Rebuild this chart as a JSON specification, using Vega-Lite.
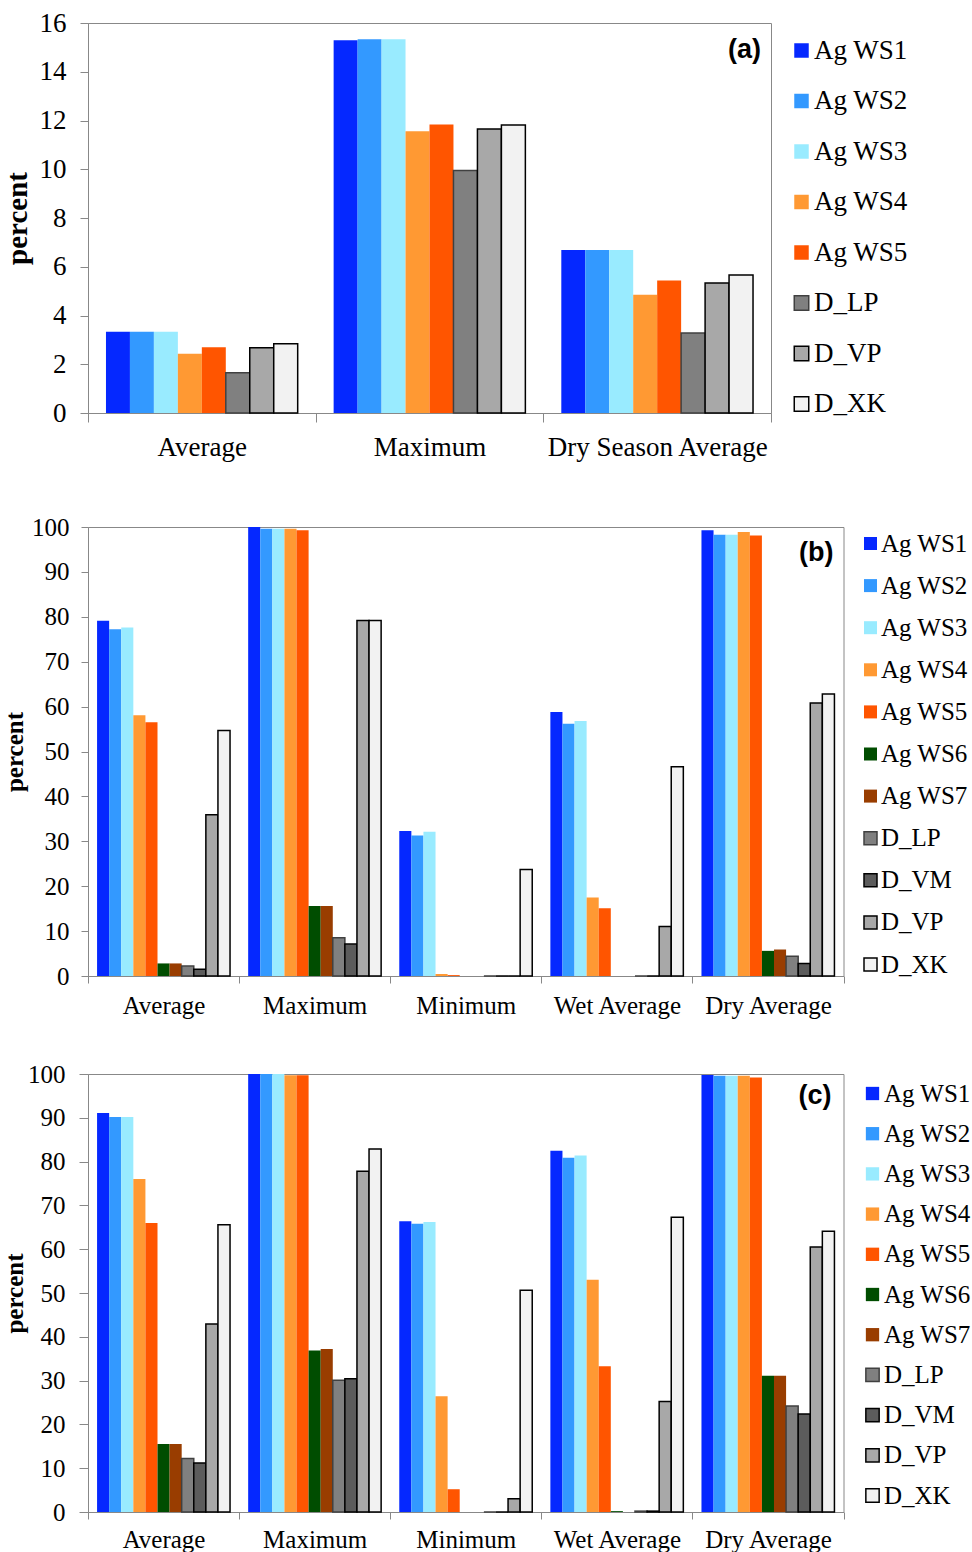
{
  "$schema": "https://vega.github.io/schema/vega-lite/v6.json",
  "padding": {"left": 2, "top": 8, "right": 0, "bottom": 0},
  "spacing": 42,
  "config": {
    "view": {"stroke": "#888888", "strokeWidth": 1},
    "axis": {"grid": false, "domainColor": "#888888", "tickColor": "#888888", "labelColor": "#000000", "titleColor": "#000000", "labelFont": "Liberation Serif", "titleFont": "Liberation Serif", "labelLimit": 0},
    "legend": {"labelFont": "Liberation Serif", "labelColor": "#000000", "symbolType": "square", "symbolStrokeWidth": 1.5, "labelLimit": 0}
  },
  "resolve": {
    "scale": {"x": "independent", "y": "independent", "xOffset": "independent", "fill": "independent", "stroke": "independent"},
    "legend": {"fill": "independent", "stroke": "independent"}
  },
  "vconcat": [
    {
      "width": 683,
      "height": 390,
      "data": {"values": [
        {"stat": "Average", "series": "Ag WS1", "value": 3.33},
        {"stat": "Average", "series": "Ag WS2", "value": 3.33},
        {"stat": "Average", "series": "Ag WS3", "value": 3.33},
        {"stat": "Average", "series": "Ag WS4", "value": 2.43},
        {"stat": "Average", "series": "Ag WS5", "value": 2.70},
        {"stat": "Average", "series": "D_LP", "value": 1.65},
        {"stat": "Average", "series": "D_VP", "value": 2.68},
        {"stat": "Average", "series": "D_XK", "value": 2.84},
        {"stat": "Maximum", "series": "Ag WS1", "value": 15.29},
        {"stat": "Maximum", "series": "Ag WS2", "value": 15.33},
        {"stat": "Maximum", "series": "Ag WS3", "value": 15.33},
        {"stat": "Maximum", "series": "Ag WS4", "value": 11.56},
        {"stat": "Maximum", "series": "Ag WS5", "value": 11.84},
        {"stat": "Maximum", "series": "D_LP", "value": 9.95},
        {"stat": "Maximum", "series": "D_VP", "value": 11.65},
        {"stat": "Maximum", "series": "D_XK", "value": 11.82},
        {"stat": "Dry Season Average", "series": "Ag WS1", "value": 6.69},
        {"stat": "Dry Season Average", "series": "Ag WS2", "value": 6.69},
        {"stat": "Dry Season Average", "series": "Ag WS3", "value": 6.69},
        {"stat": "Dry Season Average", "series": "Ag WS4", "value": 4.85},
        {"stat": "Dry Season Average", "series": "Ag WS5", "value": 5.44},
        {"stat": "Dry Season Average", "series": "D_LP", "value": 3.28},
        {"stat": "Dry Season Average", "series": "D_VP", "value": 5.33},
        {"stat": "Dry Season Average", "series": "D_XK", "value": 5.66}
      ]},
      "layer": [
        {
          "mark": {"type": "bar", "strokeWidth": 1.5},
          "encoding": {
            "x": {"field": "stat", "type": "nominal", "sort": ["Average", "Maximum", "Dry Season Average"],
              "scale": {"paddingInner": 0, "paddingOuter": 0},
              "axis": {"title": " ", "titleFontSize": 6, "titlePadding": 4.7, "labelFontSize": 27, "labelAngle": 0, "labelPadding": 12.5, "tickSize": 9, "tickBand": "extent"}},
            "xOffset": {"field": "series", "type": "nominal", "sort": ["Ag WS1", "Ag WS2", "Ag WS3", "Ag WS4", "Ag WS5", "D_LP", "D_VP", "D_XK"],
              "scale": {"paddingInner": 0, "paddingOuter": 0.75}},
            "y": {"field": "value", "type": "quantitative", "scale": {"domain": [0, 16], "nice": false},
              "axis": {"title": "percent", "titleFontWeight": "bold", "titleFontSize": 29, "titlePadding": 6.8, "labelFontSize": 27, "labelPadding": 14, "tickSize": 8, "values": [0, 2, 4, 6, 8, 10, 12, 14, 16]}},
            "fill": {"field": "series", "type": "nominal",
              "scale": {"domain": ["Ag WS1", "Ag WS2", "Ag WS3", "Ag WS4", "Ag WS5", "D_LP", "D_VP", "D_XK"],
                "range": ["#0528ff", "#3399ff", "#99ebff", "#ff9933", "#ff5500", "#808080", "#a8a8a8", "#f2f2f2"]},
              "legend": {"title": null, "orient": "right", "offset": 2.7, "padding": 14, "labelFontSize": 27, "symbolSize": 210, "rowPadding": 22.5, "labelOffset": -1}},
            "stroke": {"field": "series", "type": "nominal",
              "scale": {"domain": ["Ag WS1", "Ag WS2", "Ag WS3", "Ag WS4", "Ag WS5", "D_LP", "D_VP", "D_XK"],
                "range": ["transparent", "transparent", "transparent", "transparent", "transparent", "#404040", "#000000", "#000000"]},
              "legend": {"title": null, "orient": "right", "offset": 2.7, "padding": 14, "labelFontSize": 27, "symbolSize": 210, "rowPadding": 22.5, "labelOffset": -1}}
          }
        },
        {
          "data": {"values": [{"label": "(a)"}]},
          "mark": {"type": "text", "align": "right", "baseline": "middle", "dx": -10, "font": "Liberation Sans", "fontWeight": "bold", "fontSize": 27, "color": "#000000"},
          "encoding": {
            "x": {"datum": "Dry Season Average", "bandPosition": 1},
            "y": {"datum": 14.9},
            "text": {"field": "label"}
          }
        }
      ]
    },
    {
      "width": 755.5,
      "height": 449,
      "data": {"values": [
        {"stat": "Average", "series": "Ag WS1", "value": 79.1},
        {"stat": "Average", "series": "Ag WS2", "value": 77.2},
        {"stat": "Average", "series": "Ag WS3", "value": 77.6},
        {"stat": "Average", "series": "Ag WS4", "value": 58.1},
        {"stat": "Average", "series": "Ag WS5", "value": 56.5},
        {"stat": "Average", "series": "Ag WS6", "value": 2.8},
        {"stat": "Average", "series": "Ag WS7", "value": 2.8},
        {"stat": "Average", "series": "D_LP", "value": 2.2},
        {"stat": "Average", "series": "D_VM", "value": 1.5},
        {"stat": "Average", "series": "D_VP", "value": 35.9},
        {"stat": "Average", "series": "D_XK", "value": 54.7},
        {"stat": "Maximum", "series": "Ag WS1", "value": 100},
        {"stat": "Maximum", "series": "Ag WS2", "value": 99.6},
        {"stat": "Maximum", "series": "Ag WS3", "value": 99.6},
        {"stat": "Maximum", "series": "Ag WS4", "value": 99.6},
        {"stat": "Maximum", "series": "Ag WS5", "value": 99.3},
        {"stat": "Maximum", "series": "Ag WS6", "value": 15.6},
        {"stat": "Maximum", "series": "Ag WS7", "value": 15.6},
        {"stat": "Maximum", "series": "D_LP", "value": 8.5},
        {"stat": "Maximum", "series": "D_VM", "value": 7.1},
        {"stat": "Maximum", "series": "D_VP", "value": 79.2},
        {"stat": "Maximum", "series": "D_XK", "value": 79.2},
        {"stat": "Minimum", "series": "Ag WS1", "value": 32.3},
        {"stat": "Minimum", "series": "Ag WS2", "value": 31.3},
        {"stat": "Minimum", "series": "Ag WS3", "value": 32.1},
        {"stat": "Minimum", "series": "Ag WS4", "value": 0.45},
        {"stat": "Minimum", "series": "Ag WS5", "value": 0.2},
        {"stat": "Minimum", "series": "Ag WS6", "value": 0},
        {"stat": "Minimum", "series": "Ag WS7", "value": 0},
        {"stat": "Minimum", "series": "D_LP", "value": 0},
        {"stat": "Minimum", "series": "D_VM", "value": 0},
        {"stat": "Minimum", "series": "D_VP", "value": 0},
        {"stat": "Minimum", "series": "D_XK", "value": 23.7},
        {"stat": "Wet  Average", "series": "Ag WS1", "value": 58.8},
        {"stat": "Wet  Average", "series": "Ag WS2", "value": 56.2},
        {"stat": "Wet  Average", "series": "Ag WS3", "value": 56.8},
        {"stat": "Wet  Average", "series": "Ag WS4", "value": 17.5},
        {"stat": "Wet  Average", "series": "Ag WS5", "value": 15.1},
        {"stat": "Wet  Average", "series": "Ag WS6", "value": 0},
        {"stat": "Wet  Average", "series": "Ag WS7", "value": 0},
        {"stat": "Wet  Average", "series": "D_LP", "value": 0},
        {"stat": "Wet  Average", "series": "D_VM", "value": 0},
        {"stat": "Wet  Average", "series": "D_VP", "value": 11.0},
        {"stat": "Wet  Average", "series": "D_XK", "value": 46.6},
        {"stat": "Dry Average", "series": "Ag WS1", "value": 99.3},
        {"stat": "Dry Average", "series": "Ag WS2", "value": 98.3},
        {"stat": "Dry Average", "series": "Ag WS3", "value": 98.3},
        {"stat": "Dry Average", "series": "Ag WS4", "value": 98.9},
        {"stat": "Dry Average", "series": "Ag WS5", "value": 98.1},
        {"stat": "Dry Average", "series": "Ag WS6", "value": 5.6},
        {"stat": "Dry Average", "series": "Ag WS7", "value": 5.9},
        {"stat": "Dry Average", "series": "D_LP", "value": 4.4},
        {"stat": "Dry Average", "series": "D_VM", "value": 2.8},
        {"stat": "Dry Average", "series": "D_VP", "value": 60.8},
        {"stat": "Dry Average", "series": "D_XK", "value": 62.8}
      ]},
      "layer": [
        {
          "mark": {"type": "bar", "strokeWidth": 1.5},
          "encoding": {
            "x": {"field": "stat", "type": "nominal", "sort": ["Average", "Maximum", "Minimum", "Wet  Average", "Dry Average"],
              "scale": {"paddingInner": 0, "paddingOuter": 0},
              "axis": {"title": null, "labelFontSize": 25, "labelAngle": 0, "labelPadding": 10, "tickSize": 7, "tickBand": "extent"}},
            "xOffset": {"field": "series", "type": "nominal", "sort": ["Ag WS1", "Ag WS2", "Ag WS3", "Ag WS4", "Ag WS5", "Ag WS6", "Ag WS7", "D_LP", "D_VM", "D_VP", "D_XK"],
              "scale": {"paddingInner": 0, "paddingOuter": 0.75}},
            "y": {"field": "value", "type": "quantitative", "scale": {"domain": [0, 100], "nice": false},
              "axis": {"title": "percent", "titleFontWeight": "bold", "titleFontSize": 25, "titlePadding": 3.9, "labelFontSize": 25, "labelPadding": 12, "tickSize": 7, "values": [0, 10, 20, 30, 40, 50, 60, 70, 80, 90, 100]}},
            "fill": {"field": "series", "type": "nominal",
              "scale": {"domain": ["Ag WS1", "Ag WS2", "Ag WS3", "Ag WS4", "Ag WS5", "Ag WS6", "Ag WS7", "D_LP", "D_VM", "D_VP", "D_XK"],
                "range": ["#0528ff", "#3399ff", "#99ebff", "#ff9933", "#ff5500", "#004d00", "#993d00", "#808080", "#5c5c5c", "#a8a8a8", "#f2f2f2"]},
              "legend": {"title": null, "orient": "right", "offset": 9.6, "padding": 4, "labelFontSize": 25, "symbolSize": 169, "rowPadding": 16.1, "labelOffset": -2}},
            "stroke": {"field": "series", "type": "nominal",
              "scale": {"domain": ["Ag WS1", "Ag WS2", "Ag WS3", "Ag WS4", "Ag WS5", "Ag WS6", "Ag WS7", "D_LP", "D_VM", "D_VP", "D_XK"],
                "range": ["transparent", "transparent", "transparent", "transparent", "transparent", "transparent", "transparent", "#404040", "#000000", "#000000", "#000000"]},
              "legend": {"title": null, "orient": "right", "offset": 9.6, "padding": 4, "labelFontSize": 25, "symbolSize": 169, "rowPadding": 16.1, "labelOffset": -2}}
          }
        },
        {
          "data": {"values": [{"label": "(b)"}]},
          "mark": {"type": "text", "align": "right", "baseline": "middle", "dx": -10, "font": "Liberation Sans", "fontWeight": "bold", "fontSize": 27, "color": "#000000"},
          "encoding": {
            "x": {"datum": "Dry Average", "bandPosition": 1},
            "y": {"datum": 94.1},
            "text": {"field": "label"}
          }
        }
      ]
    },
    {
      "width": 755.5,
      "height": 438,
      "data": {"values": [
        {"stat": "Average", "series": "Ag WS1", "value": 91.1},
        {"stat": "Average", "series": "Ag WS2", "value": 90.2},
        {"stat": "Average", "series": "Ag WS3", "value": 90.2},
        {"stat": "Average", "series": "Ag WS4", "value": 76.0},
        {"stat": "Average", "series": "Ag WS5", "value": 66.0},
        {"stat": "Average", "series": "Ag WS6", "value": 15.5},
        {"stat": "Average", "series": "Ag WS7", "value": 15.5},
        {"stat": "Average", "series": "D_LP", "value": 12.2},
        {"stat": "Average", "series": "D_VM", "value": 11.2},
        {"stat": "Average", "series": "D_VP", "value": 42.9},
        {"stat": "Average", "series": "D_XK", "value": 65.6},
        {"stat": "Maximum", "series": "Ag WS1", "value": 100},
        {"stat": "Maximum", "series": "Ag WS2", "value": 100},
        {"stat": "Maximum", "series": "Ag WS3", "value": 100},
        {"stat": "Maximum", "series": "Ag WS4", "value": 99.7},
        {"stat": "Maximum", "series": "Ag WS5", "value": 99.7},
        {"stat": "Maximum", "series": "Ag WS6", "value": 36.9},
        {"stat": "Maximum", "series": "Ag WS7", "value": 37.2},
        {"stat": "Maximum", "series": "D_LP", "value": 30.1},
        {"stat": "Maximum", "series": "D_VM", "value": 30.4},
        {"stat": "Maximum", "series": "D_VP", "value": 77.8},
        {"stat": "Maximum", "series": "D_XK", "value": 82.9},
        {"stat": "Minimum", "series": "Ag WS1", "value": 66.4},
        {"stat": "Minimum", "series": "Ag WS2", "value": 65.8},
        {"stat": "Minimum", "series": "Ag WS3", "value": 66.2},
        {"stat": "Minimum", "series": "Ag WS4", "value": 26.4},
        {"stat": "Minimum", "series": "Ag WS5", "value": 5.2},
        {"stat": "Minimum", "series": "Ag WS6", "value": 0},
        {"stat": "Minimum", "series": "Ag WS7", "value": 0},
        {"stat": "Minimum", "series": "D_LP", "value": 0},
        {"stat": "Minimum", "series": "D_VM", "value": 0},
        {"stat": "Minimum", "series": "D_VP", "value": 3.0},
        {"stat": "Minimum", "series": "D_XK", "value": 50.6},
        {"stat": "Wet Average", "series": "Ag WS1", "value": 82.5},
        {"stat": "Wet Average", "series": "Ag WS2", "value": 80.9},
        {"stat": "Wet Average", "series": "Ag WS3", "value": 81.4},
        {"stat": "Wet Average", "series": "Ag WS4", "value": 53.0},
        {"stat": "Wet Average", "series": "Ag WS5", "value": 33.3},
        {"stat": "Wet Average", "series": "Ag WS6", "value": 0.2},
        {"stat": "Wet Average", "series": "Ag WS7", "value": 0},
        {"stat": "Wet Average", "series": "D_LP", "value": 0.2},
        {"stat": "Wet Average", "series": "D_VM", "value": 0.2},
        {"stat": "Wet Average", "series": "D_VP", "value": 25.2},
        {"stat": "Wet Average", "series": "D_XK", "value": 67.3},
        {"stat": "Dry Average", "series": "Ag WS1", "value": 99.8},
        {"stat": "Dry Average", "series": "Ag WS2", "value": 99.6},
        {"stat": "Dry Average", "series": "Ag WS3", "value": 99.6},
        {"stat": "Dry Average", "series": "Ag WS4", "value": 99.6},
        {"stat": "Dry Average", "series": "Ag WS5", "value": 99.2},
        {"stat": "Dry Average", "series": "Ag WS6", "value": 31.1},
        {"stat": "Dry Average", "series": "Ag WS7", "value": 31.1},
        {"stat": "Dry Average", "series": "D_LP", "value": 24.2},
        {"stat": "Dry Average", "series": "D_VM", "value": 22.4},
        {"stat": "Dry Average", "series": "D_VP", "value": 60.5},
        {"stat": "Dry Average", "series": "D_XK", "value": 64.1}
      ]},
      "layer": [
        {
          "mark": {"type": "bar", "strokeWidth": 1.5},
          "encoding": {
            "x": {"field": "stat", "type": "nominal", "sort": ["Average", "Maximum", "Minimum", "Wet Average", "Dry Average"],
              "scale": {"paddingInner": 0, "paddingOuter": 0},
              "axis": {"title": null, "labelFontSize": 25, "labelAngle": 0, "labelPadding": 8.5, "tickSize": 7, "tickBand": "extent"}},
            "xOffset": {"field": "series", "type": "nominal", "sort": ["Ag WS1", "Ag WS2", "Ag WS3", "Ag WS4", "Ag WS5", "Ag WS6", "Ag WS7", "D_LP", "D_VM", "D_VP", "D_XK"],
              "scale": {"paddingInner": 0, "paddingOuter": 0.75}},
            "y": {"field": "value", "type": "quantitative", "scale": {"domain": [0, 100], "nice": false},
              "axis": {"title": "percent", "titleFontWeight": "bold", "titleFontSize": 25, "titlePadding": 0, "labelFontSize": 25, "labelPadding": 14, "tickSize": 9, "values": [0, 10, 20, 30, 40, 50, 60, 70, 80, 90, 100]}},
            "fill": {"field": "series", "type": "nominal",
              "scale": {"domain": ["Ag WS1", "Ag WS2", "Ag WS3", "Ag WS4", "Ag WS5", "Ag WS6", "Ag WS7", "D_LP", "D_VM", "D_VP", "D_XK"],
                "range": ["#0528ff", "#3399ff", "#99ebff", "#ff9933", "#ff5500", "#004d00", "#993d00", "#808080", "#5c5c5c", "#a8a8a8", "#f2f2f2"]},
              "legend": {"title": null, "orient": "right", "offset": 9.3, "padding": 7, "labelFontSize": 25, "symbolSize": 177, "rowPadding": 14.2, "labelOffset": -1}},
            "stroke": {"field": "series", "type": "nominal",
              "scale": {"domain": ["Ag WS1", "Ag WS2", "Ag WS3", "Ag WS4", "Ag WS5", "Ag WS6", "Ag WS7", "D_LP", "D_VM", "D_VP", "D_XK"],
                "range": ["transparent", "transparent", "transparent", "transparent", "transparent", "transparent", "transparent", "#404040", "#000000", "#000000", "#000000"]},
              "legend": {"title": null, "orient": "right", "offset": 9.3, "padding": 7, "labelFontSize": 25, "symbolSize": 177, "rowPadding": 14.2, "labelOffset": -1}}
          }
        },
        {
          "data": {"values": [{"label": "(c)"}]},
          "mark": {"type": "text", "align": "right", "baseline": "middle", "dx": -12, "font": "Liberation Sans", "fontWeight": "bold", "fontSize": 27, "color": "#000000"},
          "encoding": {
            "x": {"datum": "Dry Average", "bandPosition": 1},
            "y": {"datum": 94.9},
            "text": {"field": "label"}
          }
        }
      ]
    }
  ]
}
